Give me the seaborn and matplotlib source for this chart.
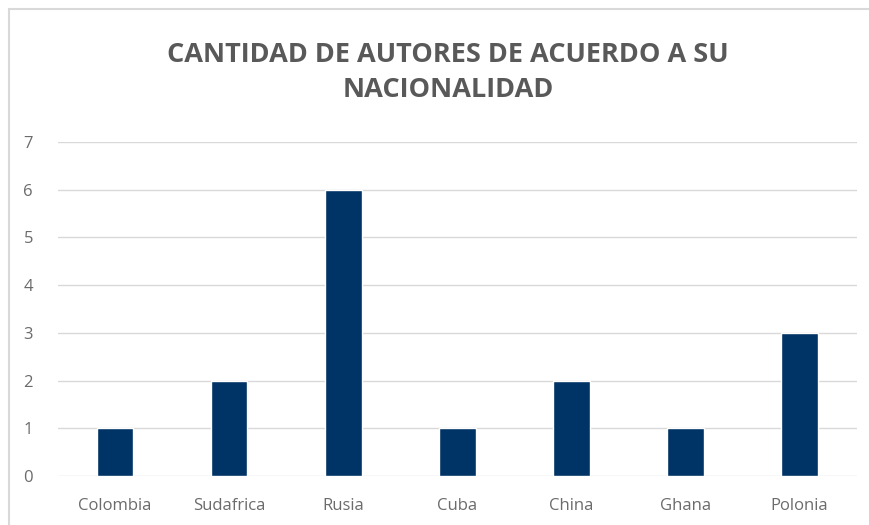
import pandas as pd
import seaborn as sns
import matplotlib.pyplot as plt
from matplotlib.patches import Rectangle

paises = ['Colombia', 'Sudafrica', 'Rusia', 'Cuba', 'China', 'Ghana', 'Polonia']
autores = [1, 2, 6, 1, 2, 1, 3]

sns.set_theme(style='white')
plt.rcParams['font.family'] = ['Open Sans', 'DejaVu Sans']

df = pd.DataFrame({'pais': paises, 'autores': autores})

fig = plt.figure(figsize=(8.7, 5.25), dpi=100)
ax = fig.add_axes([0.0667, 0.0933, 0.918, 0.6362])

sns.barplot(data=df, x='pais', y='autores', color='#003366', saturation=1,
            width=0.32, ax=ax)

ax.set_ylim(0, 7)
ax.set_xlim(-0.5, 6.5)
ax.set_yticks(range(0, 8))
ax.yaxis.grid(True, color='#d9d9d9', linewidth=1)
ax.set_axisbelow(True)
for s in ax.spines.values():
    s.set_visible(False)
ax.set_xlabel('')
ax.set_ylabel('')
ax.tick_params(axis='both', length=0, labelsize=12, labelcolor='#6b6b6b')
ax.tick_params(axis='x', pad=16)
ax.tick_params(axis='y', pad=18)

fig.text(0.515, 0.862, 'CANTIDAD DE AUTORES DE ACUERDO A SU\nNACIONALIDAD',
         ha='center', va='center', fontsize=19.5, fontweight='bold',
         color='#595959', linespacing=1.45)

# marco del grafico
fig.patches.append(Rectangle((9 / 870, -0.01), 1.0, 1 - 9 / 525 + 0.01,
                             transform=fig.transFigure, fill=False,
                             edgecolor='#d9d9d9', linewidth=1.5))

fig.savefig('out.png', dpi=100)
